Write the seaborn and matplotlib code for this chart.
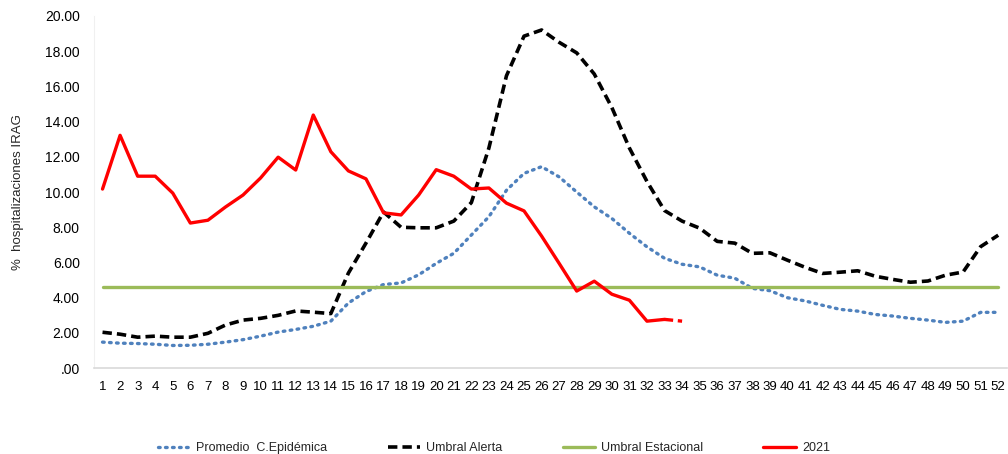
import pandas as pd
import matplotlib
matplotlib.use("Agg")
import matplotlib.pyplot as plt
import seaborn as sns

weeks = list(range(1, 53))

promedio = [1.48, 1.42, 1.40, 1.36, 1.29, 1.30, 1.36, 1.48, 1.62, 1.82,
            2.05, 2.20, 2.38, 2.67, 3.70, 4.35, 4.75, 4.84, 5.30, 5.95,
            6.52, 7.56, 8.60, 10.10, 11.06, 11.44, 10.86, 10.00, 9.16, 8.50,
            7.66, 6.89, 6.24, 5.90, 5.75, 5.28, 5.11, 4.53, 4.40, 4.00,
            3.82, 3.57, 3.34, 3.24, 3.05, 2.96, 2.83, 2.73, 2.60, 2.67,
            3.17, 3.17]

umbral_alerta = [2.04, 1.93, 1.76, 1.82, 1.76, 1.76, 1.98, 2.45, 2.73, 2.83,
                 3.00, 3.25, 3.18, 3.10, 5.40, 7.10, 8.87, 8.00, 7.97, 7.97,
                 8.35, 9.40, 12.50, 16.60, 18.85, 19.20, 18.50, 17.90, 16.70, 14.80,
                 12.50, 10.60, 8.95, 8.35, 7.95, 7.20, 7.10, 6.52, 6.55, 6.13,
                 5.73, 5.38, 5.45, 5.53, 5.22, 5.04, 4.88, 4.95, 5.28, 5.46,
                 6.90, 7.55]

umbral_estacional = [4.60] * 52

weeks_2021 = list(range(1, 35))
casos_2021 = [10.17, 13.22, 10.90, 10.90, 9.94, 8.24, 8.40, 9.15, 9.83, 10.80,
              11.98, 11.25, 14.37, 12.29, 11.20, 10.75, 8.82, 8.70, 9.83, 11.27,
              10.90, 10.17, 10.23, 9.37, 8.93, 7.50, 5.95, 4.38, 4.94, 4.20,
              3.86, 2.67, 2.77, 2.67]

y_ticks = [0, 2, 4, 6, 8, 10, 12, 14, 16, 18, 20]

sns.set_style("white")
plt.rcParams["font.family"] = ["Liberation Sans", "DejaVu Sans"]

df = pd.DataFrame({
    "semana": weeks,
    "promedio": promedio,
    "alerta": umbral_alerta,
    "estacional": umbral_estacional,
})
df21 = pd.DataFrame({"semana": weeks_2021, "valor": casos_2021})

fig = plt.figure(figsize=(10.08, 4.54), dpi=100)
ax = fig.add_axes([0.093, 0.189, 0.906, 0.776])

sns.lineplot(data=df, x="semana", y="promedio", ax=ax, color="#4f81bd", lw=2.4,
             linestyle=(0, (0.5, 1.6)), dash_capstyle="round",
             label="Promedio  C.Epidémica")
sns.lineplot(data=df, x="semana", y="alerta", ax=ax, color="black", lw=2.6,
             linestyle=(0, (2.6, 1.4)), label="Umbral Alerta")
sns.lineplot(data=df, x="semana", y="estacional", ax=ax, color="#9bbb59", lw=2.4,
             label="Umbral Estacional")
sns.lineplot(data=df21.iloc[:33], x="semana", y="valor", ax=ax, color="#ff0000",
             lw=2.4, label="2021")
# último tramo provisional, punteado
sns.lineplot(data=df21.iloc[32:], x="semana", y="valor", ax=ax, color="#ff0000",
             lw=2.4, linestyle=(0, (2.6, 1.4)), legend=False)

ax.set_xlim(0.5, 52.5)
ax.set_ylim(0, 20)
ax.set_xticks(weeks)
ax.set_xticklabels([str(w) for w in weeks], fontsize=9.5)
ax.set_yticks(y_ticks)
ax.set_yticklabels([".00" if v == 0 else f"{v:.2f}" for v in y_ticks], fontsize=10)
ax.tick_params(axis="both", length=0, colors="black")
ax.tick_params(axis="x", pad=9)
ax.tick_params(axis="y", pad=10)
ax.set_xlabel("")
ax.set_ylabel("%  hospitalizaciones IRAG", fontsize=9.5)
ax.yaxis.set_label_coords(-0.076, 0.5)

for side in ["top", "right"]:
    ax.spines[side].set_visible(False)
ax.spines["left"].set_color("#f0f0f0")
ax.spines["bottom"].set_color("#d9d9d9")
ax.spines["bottom"].set_linewidth(1.2)

ax.get_legend().remove()
handles, labels = ax.get_legend_handles_labels()
fig.legend(handles, labels, loc="lower center", bbox_to_anchor=(0.49, -0.025),
           ncol=4, frameon=False, fontsize=9, handlelength=2.6,
           columnspacing=4.8, handletextpad=0.5)

fig.savefig("out.png", dpi=100)
